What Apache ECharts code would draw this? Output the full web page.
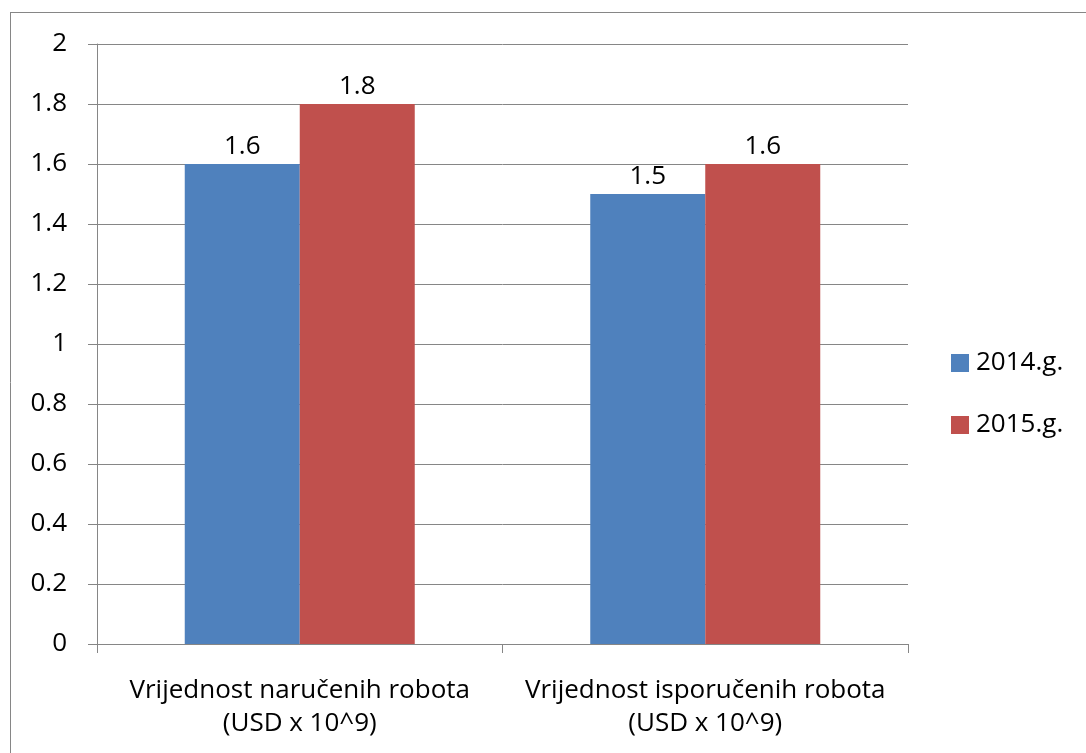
<!DOCTYPE html>
<html>
<head>
<meta charset="utf-8">
<script src="https://cdn.jsdelivr.net/npm/echarts@6/dist/echarts.min.js"></script>
<style>
	html, body { margin: 0; padding: 0; background: #fff; }
	#chart { width: 1086px; height: 753px; }
</style>
</head>
<body>
<div id="chart"></div>
<script>
var categories = ['Vrijednost naručenih robota\n(USD x 10^9)', 'Vrijednost isporučenih robota\n(USD x 10^9)'];
var seriesNames = ['2014.g.', '2015.g.'];
var values2014 = [1.6, 1.5];
var values2015 = [1.8, 1.6];

var font = 'Open Sans';
var gray = '#868686';

var chart = echarts.init(document.getElementById('chart'));

var labelStyle = {
	show : true,
	position : 'top',
	distance : 4,
	color : '#000',
	fontFamily : font,
	fontSize : 26
};

chart.setOption({
	animation : false,
	textStyle : { fontFamily : font },
	graphic : [
		{ type : 'line', shape : { x1 : 10.5, y1 : 12, x2 : 10.5, y2 : 753 }, style : { stroke : gray, lineWidth : 1 } },
		{ type : 'line', shape : { x1 : 10, y1 : 12.5, x2 : 1086, y2 : 12.5 }, style : { stroke : gray, lineWidth : 1 } }
	],
	legend : {
		orient : 'vertical',
		left : 946,
		top : 345,
		itemWidth : 18,
		itemHeight : 18,
		itemGap : 36,
		icon : 'rect',
		textStyle : { fontFamily : font, fontSize : 26, lineHeight : 18, color : '#000', padding : [0, 0, 0, 2] },
		data : seriesNames
	},
	grid : { left : 97, right : 178, top : 44, bottom : 109 },
	xAxis : {
		type : 'category',
		data : categories,
		axisLine : { lineStyle : { color : gray, width : 1 } },
		axisTick : { show : true, length : 9, lineStyle : { color : gray } },
		axisLabel : { interval : 0, hideOverlap : false, color : '#000', fontFamily : font, fontSize : 26, lineHeight : 33, margin : 30 }
	},
	yAxis : {
		type : 'value',
		min : 0,
		max : 2,
		interval : 0.2,
		axisLine : { show : true, lineStyle : { color : gray, width : 1 } },
		axisTick : { show : true, length : 9, lineStyle : { color : gray } },
		splitLine : { lineStyle : { color : gray, width : 1 } },
		axisLabel : {
			color : '#000', fontFamily : font, fontSize : 26, margin : 30,
			formatter : function (v) { return String(Math.round(v * 10) / 10); }
		}
	},
	series : [
		{
			name : seriesNames[0],
			type : 'bar',
			data : values2014,
			barWidth : 115,
			barGap : '0%',
			itemStyle : { color : '#4F81BD' },
			label : labelStyle
		},
		{
			name : seriesNames[1],
			type : 'bar',
			data : values2015,
			barWidth : 115,
			barGap : '0%',
			itemStyle : { color : '#C0504D' },
			label : labelStyle
		}
	]
});
</script>
</body>
</html>
